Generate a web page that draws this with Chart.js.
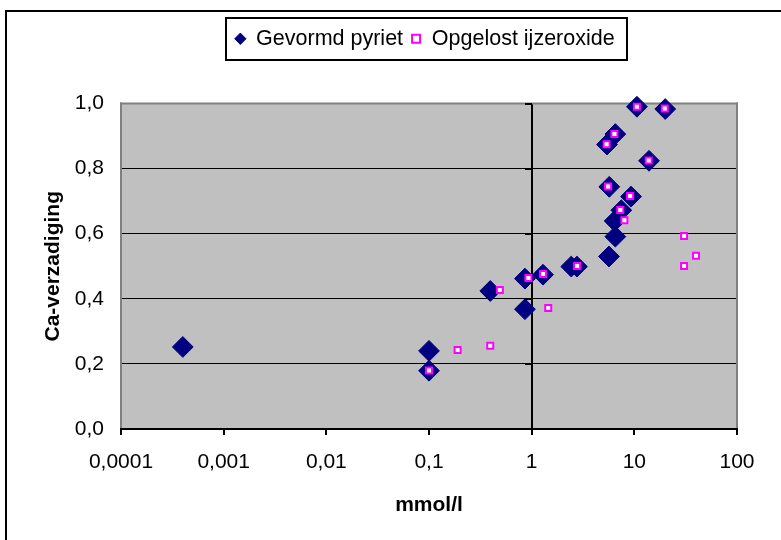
<!DOCTYPE html>
<html>
<head>
<meta charset="utf-8">
<script src="https://cdn.jsdelivr.net/npm/chart.js@4/dist/chart.umd.min.js"></script>
<style>
html,body{margin:0;padding:0;background:#fff;}
#wrap{width:781px;height:540px;position:relative;}
</style>
</head>
<body>
<div id="wrap"><canvas id="c" width="781" height="540"></canvas></div>
<script>
// ---- data ----
const seriesNames = ['Gevormd pyriet', 'Opgelost ijzeroxide'];

const pyrietX = [0.0004, 0.1, 0.1, 0.395, 0.86, 0.86, 1.29, 2.43, 2.76, 5.66, 6.53, 6.43, 7.47, 9.29, 5.7, 13.9, 5.42, 6.53, 10.6, 20.0];
const pyrietY = [0.252, 0.24, 0.179, 0.424, 0.462, 0.368, 0.474, 0.499, 0.499, 0.53, 0.591, 0.639, 0.672, 0.714, 0.744, 0.824, 0.874, 0.906, 0.99, 0.983];

const ijzerX = [0.1, 0.19, 0.395, 0.49, 0.93, 1.45, 1.29, 2.77, 30.5, 39.9, 30.5, 8.0, 7.3, 9.1, 5.55, 13.8, 5.37, 6.4, 10.6, 19.8];
const ijzerY = [0.18, 0.243, 0.256, 0.427, 0.464, 0.372, 0.476, 0.501, 0.501, 0.532, 0.593, 0.641, 0.673, 0.716, 0.745, 0.825, 0.875, 0.906, 0.99, 0.985];

const xTickValues = [0.0001, 0.001, 0.01, 0.1, 1, 10, 100];
const xTickLabels = ['0,0001', '0,001', '0,01', '0,1', '1', '10', '100'];
const yTickLabels = ['0,0', '0,2', '0,4', '0,6', '0,8', '1,0'];
const xTitle = 'mmol/l';
const yTitle = 'Ca-verzadiging';

// ---- chart ----
const FONT = "'Liberation Sans', Arial, Helvetica, sans-serif";
Chart.defaults.font.family = FONT;
Chart.defaults.color = '#000';

const LEGEND_ITEMS_CENTER = 425;

const decor = {
  id: 'decor',
  afterLayout(chart) {
    const lg = chart.legend;
    if (!lg || !lg.lineWidths) return;
    const p = lg.options.labels.padding;
    const lw = lg.lineWidths[0];
    const startX = (lg.left + p + lg.right - lw) / 2;
    const center = startX + (lw - p) / 2;
    const dx = LEGEND_ITEMS_CENTER - center;
    lg.left += dx;
    lg.right += dx;
  },
  beforeDraw(chart) {
    const {ctx, chartArea: a} = chart;
    ctx.save();
    ctx.fillStyle = '#ffffff';
    ctx.fillRect(0, 0, chart.width, chart.height);
    ctx.fillStyle = '#000000';
    ctx.fillRect(5, 10, 2, chart.height - 10);
    ctx.fillRect(5, 10, chart.width - 5, 2);
    ctx.fillStyle = '#c0c0c0';
    ctx.fillRect(a.left, a.top, a.right - a.left, a.bottom - a.top);
    ctx.restore();
  },
  beforeDatasetsDraw(chart) {
    const {ctx, chartArea: a} = chart;
    const xs = chart.scales.x, ys = chart.scales.y;
    ctx.save();
    ctx.fillStyle = '#808080';
    ctx.fillRect(a.left - 1, a.top - 1, 2, a.bottom - a.top);
    ctx.fillRect(a.left - 1, a.top - 1, a.right - a.left + 2, 2);
    ctx.fillRect(a.right - 1, a.top - 1, 2, a.bottom - a.top);
    ctx.fillStyle = '#000000';
    const x1 = Math.round(xs.getPixelForValue(1));
    ys.ticks.forEach(t => {
      const y = Math.round(ys.getPixelForValue(t.value));
      ctx.fillRect(x1 - 7, y - 1, 7, 2);
    });
    ctx.restore();
  },
  afterDraw(chart) {
    const lg = chart.legend;
    if (!lg || !lg.legendHitBoxes || !lg.legendHitBoxes.length) return;
    const hb = lg.legendHitBoxes;
    const first = hb[0], last = hb[hb.length - 1];
    const cy = first.top + first.height / 2;
    const left = first.left - 9;
    const right = last.left + last.width + 13;
    const {ctx} = chart;
    ctx.save();
    ctx.strokeStyle = '#000';
    ctx.lineWidth = 2;
    ctx.strokeRect(Math.round(left), Math.round(cy - 21), Math.round(right - left), 42);
    ctx.restore();
  }
};

new Chart(document.getElementById('c'), {
  type: 'scatter',
  data: {
    datasets: [
      {
        label: seriesNames[0],
        data: pyrietX.map((x, i) => ({x: x, y: pyrietY[i]})),
        pointStyle: 'rectRot',
        pointRadius: 10.4,
        pointHoverRadius: 10.4,
        backgroundColor: '#000080',
        borderColor: '#000080',
        borderWidth: 1,
        order: 1,
        clip: false
      },
      {
        label: seriesNames[1],
        data: ijzerX.map((x, i) => ({x: x, y: ijzerY[i]})),
        pointStyle: 'rect',
        pointRadius: 4.25,
        pointHoverRadius: 4.25,
        backgroundColor: '#ffffff',
        borderColor: '#ff00ff',
        borderWidth: 2,
        order: 0,
        clip: false
      }
    ]
  },
  options: {
    responsive: false,
    devicePixelRatio: 1,
    animation: false,
    events: [],
    layout: {padding: {top: 20, left: 0, right: 44, bottom: 0}},
    scales: {
      x: {
        type: 'logarithmic',
        position: 'bottom',
        min: 0.0001,
        max: 100,
        afterBuildTicks: s => { s.ticks = xTickValues.map(v => ({value: v})); },
        afterFit: s => { s.height = 111; },
        ticks: {
          autoSkip: false,
          maxRotation: 0,
          minRotation: 0,
          padding: 15,
          color: '#000',
          font: {size: 21, family: FONT},
          callback: (v, i) => xTickLabels[i]
        },
        grid: {
          drawOnChartArea: true,
          color: c => (c.tick && c.tick.value === 1) ? '#000' : 'rgba(0,0,0,0)',
          lineWidth: 2,
          tickColor: '#000',
          tickLength: 6,
          tickWidth: 2
        },
        border: {display: true, color: '#000', width: 2},
        title: {
          display: true,
          text: xTitle,
          color: '#000',
          font: {size: 21, weight: 'bold', family: FONT},
          padding: {top: 0, bottom: 22}
        }
      },
      y: {
        type: 'linear',
        min: 0,
        max: 1,
        afterFit: s => { s.width = 121; },
        ticks: {
          stepSize: 0.2,
          padding: 17,
          color: '#000',
          font: {size: 21, family: FONT},
          callback: (v, i) => yTickLabels[i]
        },
        grid: {
          drawTicks: false,
          color: c => (c.index === 0 || c.index === yTickLabels.length - 1) ? 'rgba(0,0,0,0)' : '#000',
          lineWidth: 1
        },
        border: {display: false},
        title: {
          display: true,
          text: yTitle,
          color: '#000',
          font: {size: 21, weight: 'bold', family: FONT},
          padding: {top: 41, bottom: 0}
        }
      }
    },
    plugins: {
      tooltip: {enabled: false},
      title: {display: false},
      subtitle: {display: true, text: '', font: {size: 10}, padding: {top: 16, bottom: 16}},
      legend: {
        display: true,
        position: 'top',
        weight: 3000,
        labels: {
          usePointStyle: true,
          boxWidth: 10,
          boxHeight: 8,
          padding: 8,
          color: '#000',
          font: {size: 21.5, family: FONT},
          sort: (a, b) => a.datasetIndex - b.datasetIndex
        }
      }
    }
  },
  plugins: [decor]
});
</script>
</body>
</html>
